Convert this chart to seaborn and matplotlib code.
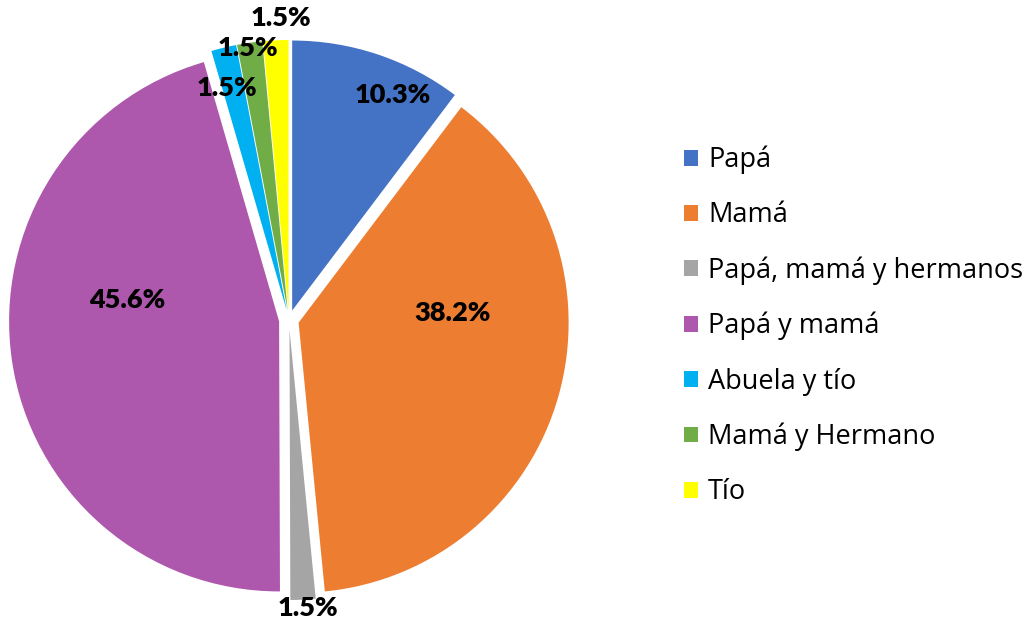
import matplotlib
matplotlib.use("Agg")
import matplotlib.pyplot as plt
import seaborn as sns
from matplotlib.patches import Patch

# data
categories = ["Papá", "Mamá", "Papá, mamá y hermanos", "Papá y mamá",
              "Abuela y tío", "Mamá y Hermano", "Tío"]
percentages = [10.3, 38.2, 1.5, 45.6, 1.5, 1.5, 1.5]
colors = ["#4472C4", "#ED7D31", "#A5A5A5", "#AD57AD", "#00B0F0", "#70AD47", "#FFFF00"]

# label anchor points (in pie-radius units, relative to the centre)
label_xy = [(0.385, 0.833), (0.607, 0.026), (0.070, -1.067), (-0.600, 0.074),
            (-0.230, 0.859), (-0.152, 1.007), (-0.030, 1.118)]

sns.set_theme(style="white")
plt.rcParams["font.family"] = ["Open Sans", "DejaVu Sans"]

W, H = 1033, 628
R = 270.0          # pie radius in px
cx, cy = 289.0, 320.0  # centre in px (from top-left)

fig = plt.figure(figsize=(W / 100, H / 100), dpi=100)
ax = fig.add_axes([0, 0, 1, 1])

wedges, texts = ax.pie(
    percentages,
    colors=colors,
    startangle=90,
    counterclock=False,
    explode=[0.037] * len(percentages),
    radius=1.0,
    wedgeprops=dict(linewidth=0),
    normalize=True,
)

for val, (lx, ly) in zip(percentages, label_xy):
    ax.text(lx, ly, f"{val:.1f}%", ha="center", va="center",
            fontsize=19.5, fontweight="heavy", color="black",
            family=["Lato", "DejaVu Sans"])

ax.set_aspect("auto")
ax.set_xlim(-cx / R, (W - cx) / R)
ax.set_ylim(-(H - cy) / R, cy / R)
ax.axis("off")

handles = [Patch(facecolor=c, edgecolor="none") for c in colors]
fig.legend(handles, categories, loc="center left",
           bbox_to_anchor=(684 / W, 1 - 326 / H), frameon=False,
           fontsize=19.5, handlelength=0.52, handleheight=0.52,
           handletextpad=0.37, labelspacing=1.0, borderpad=0,
           borderaxespad=0, labelcolor="black")

fig.savefig("out.png", dpi=100)
